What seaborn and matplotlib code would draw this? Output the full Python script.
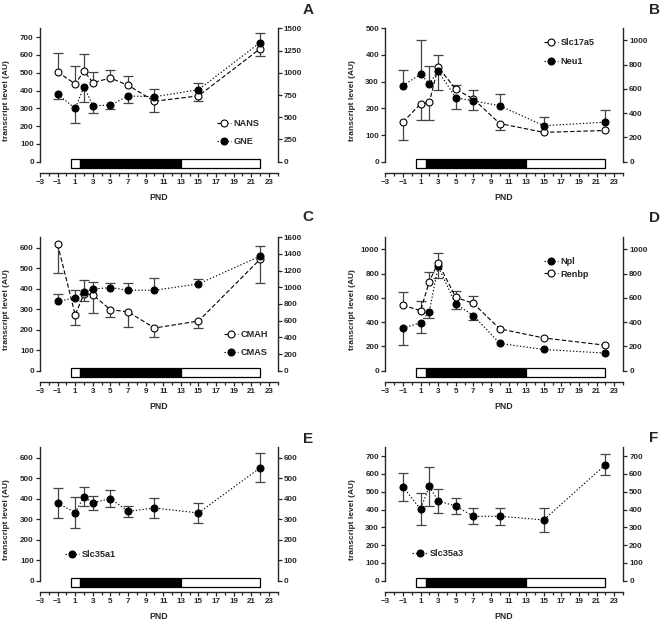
import matplotlib
matplotlib.use("Agg")
import matplotlib.pyplot as plt
from matplotlib.patches import Rectangle
import numpy as np
import seaborn as sns

# postnatal days sampled
pnd = [-1, 1, 2, 3, 5, 7, 10, 15, 22]

# A: NANS (open) / GNE (filled)
nans = [505, 437, 510, 445, 470, 430, 340, 370, 635]
nans_lo = [0, 0, 0, 0, 0, 0, 60, 30, 40]
nans_hi = [105, 103, 95, 57, 45, 50, 0, 0, 0]
gne = [378, 300, 422, 315, 318, 370, 365, 405, 670]
gne_lo = [23, 85, 87, 43, 20, 42, 0, 0, 0]
gne_hi = [0, 0, 0, 0, 0, 0, 45, 40, 55]

# B: Slc17a5 (open) / Neu1 (filled)
slc17a5 = [148, 217, 222, 355, 272, 235, 143, 110, 117]
slc17a5_lo = [68, 62, 67, 0, 0, 0, 26, 0, 0]
slc17a5_hi = [0, 0, 0, 45, 16, 35, 0, 0, 0]
neu1 = [285, 328, 293, 340, 240, 228, 210, 135, 148]
neu1_lo = [0, 0, 0, 70, 43, 35, 0, 0, 0]
neu1_hi = [57, 129, 67, 0, 0, 0, 43, 32, 44]

# C: CMAH (open) / CMAS (filled)
cmah = [615, 272, 375, 370, 297, 287, 208, 242, 543]
cmah_lo = [137, 50, 37, 88, 37, 72, 43, 32, 115]
cmah_hi = [0, 0, 0, 0, 0, 0, 0, 0, 0]
cmas = [338, 355, 383, 398, 405, 392, 392, 423, 558]
cmas_lo = [0, 0, 0, 0, 0, 0, 0, 0, 0]
cmas_hi = [34, 38, 57, 34, 23, 33, 60, 25, 50]

# D: Npl (filled) / Renbp (open)
npl = [350, 395, 487, 860, 550, 455, 225, 175, 145]
npl_lo = [140, 85, 52, 95, 45, 35, 0, 0, 0]
npl_hi = [0, 0, 0, 0, 0, 0, 0, 0, 0]
renbp = [540, 495, 735, 890, 605, 555, 345, 270, 210]
renbp_lo = [0, 0, 0, 0, 0, 0, 0, 0, 0]
renbp_hi = [108, 80, 75, 80, 55, 60, 0, 0, 0]

# E: Slc35a1, F: Slc35a3 (two-sided error)
slc35a1 = [378, 332, 410, 380, 400, 338, 354, 330, 550]
slc35a1_err = [72, 75, 46, 35, 40, 27, 49, 48, 71]
slc35a3 = [528, 402, 530, 448, 420, 362, 362, 342, 652]
slc35a3_err = [79, 90, 112, 69, 43, 45, 48, 66, 58]

# timeline bar segments (start, end, colour)
bar_segments = [(0.5, 1.6, "white"), (1.6, 13, "black"), (13, 22, "white")]

sns.set_theme(style="ticks")
plt.rcParams["font.family"] = ["Liberation Sans", "DejaVu Sans"]
plt.rcParams["font.weight"] = "bold"
plt.rcParams["axes.labelweight"] = "bold"

W, H = 662, 621
fig = plt.figure(figsize=(W / 100, H / 100), dpi=100)

AX_W, AX_H = 237.7, 144.4
ZERO_PX = 11.0          # distance of y=0 above x-axis line
SPAN_PX = AX_H - ZERO_PX
ERR_COLOR = "#444444"
TICK_FS = 5.8


def draw_series(ax, y, lo, hi, filled, ls, label):
    x = np.array(pnd, dtype=float)
    y = np.array(y, dtype=float)
    lo = np.array(lo, dtype=float)
    hi = np.array(hi, dtype=float)
    ax.errorbar(x, y, yerr=[lo, hi], fmt="none", ecolor=ERR_COLOR,
                elinewidth=0.9, capsize=0, zorder=2)
    m = hi > 0
    ax.plot(x[m], (y + hi)[m], ls="none", marker="_", markersize=6.5,
            mew=0.9, color=ERR_COLOR, zorder=2)
    m = lo > 0
    ax.plot(x[m], (y - lo)[m], ls="none", marker="_", markersize=6.5,
            mew=0.9, color=ERR_COLOR, zorder=2)
    sns.lineplot(x=x, y=y, ax=ax, color="black", linestyle=ls, linewidth=0.8,
                 marker="o", markersize=5,
                 markerfacecolor="black" if filled else "white",
                 markeredgecolor="black", markeredgewidth=0.8,
                 errorbar=None, zorder=3)
    line = ax.lines[-1]
    line.set_label(label)
    return line


def setup_panel(left_px, bottom_px, top, top2, ticks, ticks2):
    ax = fig.add_axes([left_px / W, 1 - bottom_px / H, AX_W / W, AX_H / H])
    ax.set_xlim(-3, 24)
    ax.set_ylim(-top * ZERO_PX / SPAN_PX, top)
    for s in ["top", "right"]:
        ax.spines[s].set_visible(False)
    ax.spines["left"].set_bounds(0, top)
    for s in ["left", "bottom"]:
        ax.spines[s].set_linewidth(1.0)
    ax.set_yticks(ticks)
    ax.set_xticks(np.arange(-3, 24, 2))
    ax.set_xticks(np.arange(-2, 25, 2), minor=True)
    ax.tick_params(axis="y", length=3, width=0.9, pad=1.5, labelsize=TICK_FS)
    ax.tick_params(axis="x", which="major", length=3, width=0.9, pad=1.5,
                   labelsize=TICK_FS)
    ax.tick_params(axis="x", which="minor", length=1.8, width=0.9)
    ax.set_xlabel("PND", fontsize=6.3, va="center")
    ax.xaxis.set_label_coords(0.5, -25 / AX_H)
    ax.set_ylabel("transcript level (AU)", fontsize=6.0, va="center")
    ax.yaxis.set_label_coords(-0.139, 0.5)

    ax2 = ax.twinx()
    ax2.set_ylim(-top2 * ZERO_PX / SPAN_PX, top2)
    for s in ["top", "left", "bottom"]:
        ax2.spines[s].set_visible(False)
    ax2.spines["right"].set_bounds(0, top2)
    ax2.spines["right"].set_linewidth(1.0)
    ax2.set_yticks(ticks2)
    ax2.tick_params(axis="y", length=3, width=0.9, pad=1.5, labelsize=TICK_FS)

    # developmental timeline bar just below y=0
    tr = ax.get_xaxis_transform()
    y0 = (ZERO_PX - 6) / AX_H
    h = 9 / AX_H
    for x0, x1, c in bar_segments:
        ax.add_patch(Rectangle((x0, y0), x1 - x0, h, transform=tr,
                               facecolor=c, edgecolor="black", linewidth=0.9,
                               clip_on=False, zorder=4))
    return ax


def add_legend(ax, handles, x_px, y_px, spacing):
    ax.legend(handles=handles, loc="upper left",
              bbox_to_anchor=(x_px / W, 1 - (y_px - 5) / H),
              bbox_transform=fig.transFigure, frameon=False, fontsize=6.6,
              handlelength=1.6, handletextpad=0.25, borderpad=0,
              borderaxespad=0, labelspacing=spacing)


# A
ax = setup_panel(40, 172.7, 750, 1500, range(0, 701, 100), range(0, 1501, 250))
h1 = draw_series(ax, nans, nans_lo, nans_hi, False, (0, (4, 2)), "NANS")
h2 = draw_series(ax, gne, gne_lo, gne_hi, True, (0, (1.2, 1.8)), "GNE")
add_legend(ax, [h1, h2], 216.5, 124, 1.0)

# B
ax = setup_panel(385.3, 172.7, 500, 1100, range(0, 501, 100), range(0, 1001, 200))
h1 = draw_series(ax, slc17a5, slc17a5_lo, slc17a5_hi, False, (0, (4, 2)), "Slc17a5")
h2 = draw_series(ax, neu1, neu1_lo, neu1_hi, True, (0, (1.2, 1.8)), "Neu1")
add_legend(ax, [h1, h2], 543.5, 43.3, 1.08)

# C
ax = setup_panel(40, 381.7, 650, 1600, range(0, 601, 100), range(0, 1601, 200))
h1 = draw_series(ax, cmah, cmah_lo, cmah_hi, False, (0, (4, 2)), "CMAH")
h2 = draw_series(ax, cmas, cmas_lo, cmas_hi, True, (0, (1.2, 1.8)), "CMAS")
add_legend(ax, [h1, h2], 223.5, 335, 1.0)

# D
ax = setup_panel(385.3, 381.7, 1100, 1100, range(0, 1001, 200), range(0, 1001, 200))
h1 = draw_series(ax, npl, npl_lo, npl_hi, True, (0, (1.2, 1.8)), "Npl")
h2 = draw_series(ax, renbp, renbp_lo, renbp_hi, False, (0, (4, 2)), "Renbp")
add_legend(ax, [h1, h2], 543.5, 262, 0.4)

# E
ax = setup_panel(40, 591.7, 650, 650, range(0, 601, 100), range(0, 601, 100))
h1 = draw_series(ax, slc35a1, slc35a1_err, slc35a1_err, True, (0, (1.2, 1.8)), "Slc35a1")
add_legend(ax, [h1], 64.5, 555, 1.0)

# F
ax = setup_panel(385.3, 591.7, 750, 750, range(0, 701, 100), range(0, 701, 100))
h1 = draw_series(ax, slc35a3, slc35a3_err, slc35a3_err, True, (0, (1.2, 1.8)), "Slc35a3")
add_legend(ax, [h1], 412.5, 554, 1.0)

# panel letters
for letter, x, y in [("A", 308, 10), ("B", 654, 10), ("C", 308, 217),
                     ("D", 654, 218), ("E", 308, 439), ("F", 654, 438)]:
    fig.text(x / W, 1 - y / H, letter, ha="center", va="center",
             fontsize=11, fontweight="bold")

fig.savefig("out.png", dpi=100)
